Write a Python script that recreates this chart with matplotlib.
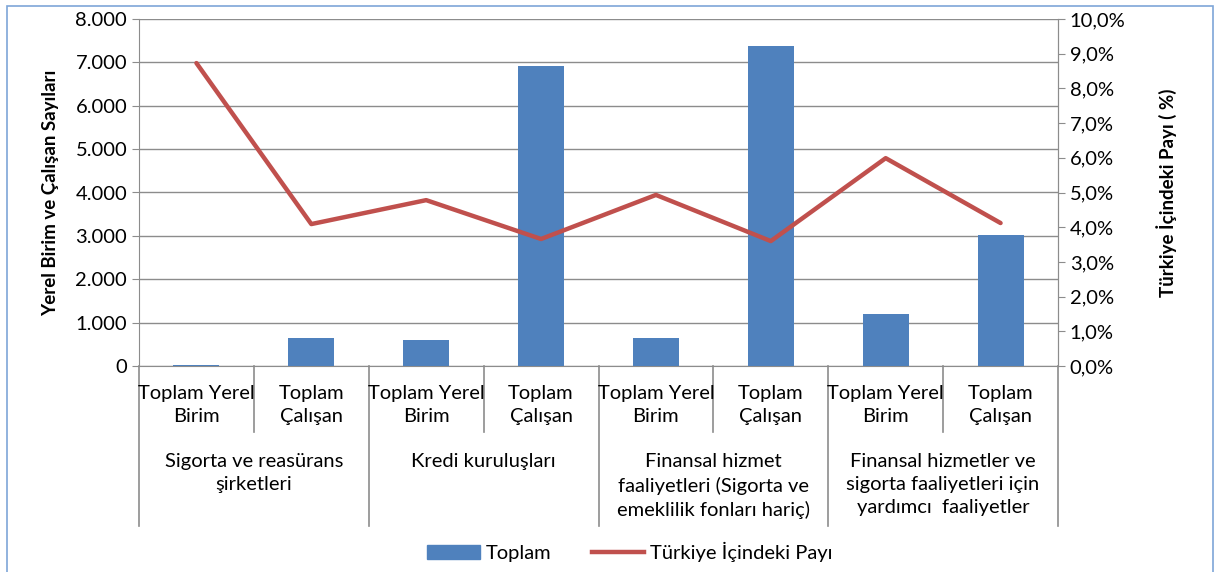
import matplotlib
matplotlib.use("Agg")
import matplotlib.pyplot as plt
from matplotlib.ticker import FuncFormatter
from matplotlib.patches import Rectangle
from matplotlib.lines import Line2D
import numpy as np

plt.rcParams['font.family'] = ['Lato', 'DejaVu Sans']

sub_labels = ["Toplam Yerel\nBirim", "Toplam\nÇalışan"] * 4
groups = ["Sigorta ve reasürans\nşirketleri",
          "Kredi kuruluşları",
          "Finansal hizmet\nfaaliyetleri (Sigorta ve\nemeklilik fonları hariç)",
          "Finansal hizmetler ve\nsigorta faaliyetleri için\nyardımcı  faaliyetler"]
toplam = [30, 640, 610, 6910, 640, 7370, 1190, 3010]
pay = [8.73, 4.09, 4.78, 3.66, 4.93, 3.60, 5.99, 4.12]

bar_color = "#4f81bd"
line_color = "#c0504d"
grid_color = "#8c8c8c"
fs = 14.5

fig = plt.figure(figsize=(12.19, 5.72), dpi=100)
ax = fig.add_axes([139/1219, 1-366/572, (1058-139)/1219, (366-19)/572])
x = np.arange(len(toplam))
ax.bar(x, toplam, width=0.4, color=bar_color, zorder=3)
ax.set_xlim(-0.5, len(toplam)-0.5)
ax.set_ylim(0, 8000)
ax.set_yticks(np.arange(0, 8001, 1000))
ax.yaxis.set_major_formatter(FuncFormatter(lambda v, p: "0" if v == 0 else f"{int(v):,}".replace(",", ".")))
ax.grid(axis='y', color=grid_color, linewidth=1, zorder=0)
ax.set_xticks([])
ax.spines['top'].set_visible(False)
for s in ['left', 'bottom', 'right']:
    ax.spines[s].set_color(grid_color)
ax.tick_params(axis='y', colors=grid_color, labelcolor='black', labelsize=fs, length=5)
ax.set_ylabel("Yerel Birim ve Çalışan Sayıları", fontsize=13.5, fontweight='bold', labelpad=12)

ax2 = ax.twinx()
ax2.plot(x, pay, color=line_color, linewidth=3.2, solid_capstyle='round', zorder=4)
ax2.set_ylim(0, 10)
ax2.set_yticks(np.arange(0, 10.01, 1))
ax2.yaxis.set_major_formatter(FuncFormatter(lambda v, p: f"{v:.1f}%".replace(".", ",")))
ax2.tick_params(axis='y', colors=grid_color, labelcolor='black', labelsize=fs, length=5)
for s in ['top', 'left', 'bottom']:
    ax2.spines[s].set_visible(False)
ax2.spines['right'].set_color(grid_color)
ax2.set_ylabel("Türkiye İçindeki Payı ( %)", fontsize=13.5, fontweight='bold', labelpad=22)

trans = ax.get_xaxis_transform()
for i, lab in enumerate(sub_labels):
    ax.text(i, -0.055, lab, transform=trans, ha='center', va='top', fontsize=fs, linespacing=1.45)
for i in range(len(sub_labels)+1):
    b = i - 0.5
    y_end = -0.461 if i % 2 == 0 else -0.19
    ax.plot([b, b], [0, y_end], transform=trans, color=grid_color, linewidth=1.2, clip_on=False)
for g, lab in enumerate(groups):
    ax.text(2*g + 0.5, -0.25, lab, transform=trans, ha='center', va='top', fontsize=fs, linespacing=1.45)

handles = [Rectangle((0, 0), 1, 1, color=bar_color), Line2D([0], [0], color=line_color, linewidth=3.2)]
fig.legend(handles, ["Toplam", "Türkiye İçindeki Payı"], loc='center', bbox_to_anchor=(630/1219, 1-552/572),
           ncol=2, frameon=False, fontsize=fs, handlelength=2.6, columnspacing=2.0, handletextpad=0.3)

fig.add_artist(Rectangle((7/1219, -0.01), 1206/1219, 1.0, transform=fig.transFigure,
                         fill=False, edgecolor="#7ea6d8", linewidth=1.2))

fig.savefig("out.png", dpi=100)
